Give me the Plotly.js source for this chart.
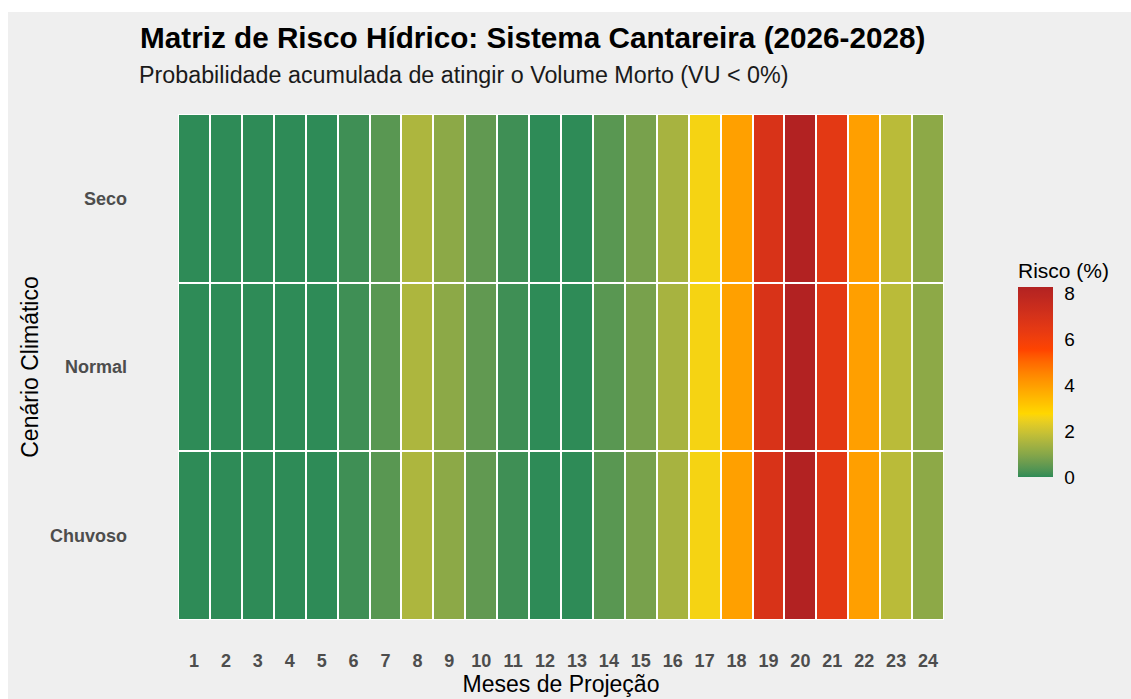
<!DOCTYPE html>
<html><head><meta charset="utf-8">
<script src="https://cdn.plot.ly/plotly-3.0.1.min.js"></script>
<style>html,body{margin:0;padding:0;background:#ffffff;} #chart{position:absolute;left:8px;top:12px;width:1123px;height:687px;}</style>
</head><body><div id="chart"></div>
<script>
const months = [1,2,3,4,5,6,7,8,9,10,11,12,13,14,15,16,17,18,19,20,21,22,23,24];
const scenarios = ['Chuvoso','Normal','Seco'];
const riskSeco    = [0,0,0,0,0,0.14,0.41,1.54,1.07,0.50,0.14,0,0,0.41,0.80,1.46,2.61,3.94,6.89,8.27,6.50,3.96,1.73,1.08];
const riskNormal  = [0,0,0,0,0,0.14,0.41,1.54,1.07,0.50,0.14,0,0,0.41,0.80,1.46,2.61,3.94,6.89,8.27,6.50,3.96,1.73,1.08];
const riskChuvoso = [0,0,0,0,0,0.14,0.41,1.54,1.07,0.50,0.14,0,0,0.41,0.80,1.46,2.61,3.94,6.89,8.27,6.50,3.96,1.73,1.08];
const anchorColors = ['#2E8B57','#FFD700','#FF4500','#B22222'];
const colorbarTicks = [0,2,4,6,8];
const titleText = 'Matriz de Risco Hídrico: Sistema Cantareira (2026-2028)';
const subtitleText = 'Probabilidade acumulada de atingir o Volume Morto (VU < 0%)';

// Lab-space interpolation (like ggplot's gradientn)
function hex2rgb(h){return [1,3,5].map(i=>parseInt(h.substr(i,2),16)/255);}
function toLin(c){return c<=0.04045?c/12.92:Math.pow((c+0.055)/1.055,2.4);}
function fromLin(c){return c<=0.0031308?12.92*c:1.055*Math.pow(c,1/2.4)-0.055;}
const Wn=[0.95047,1,1.08883];
function f(t){return t>0.008856?Math.cbrt(t):7.787*t+16/116;}
function finv(t){return t>0.206893?t*t*t:(t-16/116)/7.787;}
function rgb2lab(rgb){
  const [r,g,b]=rgb.map(toLin);
  const X=(0.4124*r+0.3576*g+0.1805*b)/Wn[0], Y=(0.2126*r+0.7152*g+0.0722*b)/Wn[1], Z=(0.0193*r+0.1192*g+0.9505*b)/Wn[2];
  const fx=f(X),fy=f(Y),fz=f(Z);
  return [116*fy-16,500*(fx-fy),200*(fy-fz)];
}
function lab2rgb(lab){
  const fy=(lab[0]+16)/116, fx=fy+lab[1]/500, fz=fy-lab[2]/200;
  const X=finv(fx)*Wn[0],Y=finv(fy)*Wn[1],Z=finv(fz)*Wn[2];
  let r=3.2406*X-1.5372*Y-0.4986*Z, g=-0.9689*X+1.8758*Y+0.0415*Z, b=0.0557*X-0.2040*Y+1.0570*Z;
  return [r,g,b].map(c=>Math.round(Math.min(1,Math.max(0,fromLin(Math.max(0,c))))*255));
}
const labs = anchorColors.map(h=>rgb2lab(hex2rgb(h)));
const colorscale=[];
const N=60;
for(let i=0;i<=N;i++){
  const p=i/N, seg=Math.min(labs.length-2,Math.floor(p*(labs.length-1)));
  const t=p*(labs.length-1)-seg;
  const lab=labs[seg].map((v,k)=>v+(labs[seg+1][k]-v)*t);
  const c=lab2rgb(lab);
  colorscale.push([p,'rgb('+c.join(',')+')']);
}

const z=[riskChuvoso,riskNormal,riskSeco];
const font='"Liberation Sans", Arial, sans-serif';

const trace={
  type:'heatmap', x:months, y:scenarios, z:z,
  colorscale:colorscale, zmin:0,
  xgap:2, ygap:2,
  hovertemplate:'Mês %{x}<br>%{y}<br>Risco: %{z:.2f}%<extra></extra>',
  colorbar:{
    thickness:35, thicknessmode:'pixels', len:218, lenmode:'pixels',
    x:1.0966, xanchor:'left', xref:'paper', y:(620-477)/506, yanchor:'bottom',
    xpad:0, ypad:0, outlinewidth:0,
    tickvals:colorbarTicks, ticks:'outside', ticklen:8, tickcolor:'rgba(0,0,0,0)',
    tickfont:{family:font,size:19,color:'#000000'},
    title:{text:'Risco (%)', side:'top', font:{family:font,size:21,color:'#000000'}}
  }
};

const layout={
  width:1123, height:687,
  paper_bgcolor:'#EFEFEF', plot_bgcolor:'#FFFFFF',
  margin:{l:170,r:187,t:102,b:79},
  font:{family:font},
  title:{
    text:titleText,
    font:{family:font,size:29.7,weight:'bold',color:'#000000'},
    x:132/1123, xanchor:'left', xref:'container',
    y:1-26/687, yanchor:'middle', yref:'container'
  },
  annotations:[{
    text:subtitleText, xref:'paper', yref:'paper',
    x:(137-178)/766, xanchor:'left', y:1+(114-75)/506, yanchor:'middle',
    showarrow:false, font:{family:font,size:23.3,color:'#1a1a1a'}
  }],
  xaxis:{
    tickmode:'array', tickvals:months, ticktext:months.map(String),
    range:[0.5,24.5], showgrid:false, zeroline:false, ticks:'',
    ticklabelstandoff:28,
    tickfont:{family:font,size:18,weight:'bold',color:'#4D4D4D'},
    title:{text:'Meses de Projeção', font:{family:font,size:23,color:'#000000'}, standoff:5}
  },
  yaxis:{
    type:'category', categoryorder:'array', categoryarray:scenarios,
    showgrid:false, zeroline:false, ticks:'',
    ticklabelstandoff:50,
    tickfont:{family:font,size:18,weight:'bold',color:'#4D4D4D'},
    title:{text:'Cenário Climático', font:{family:font,size:23,color:'#000000'}, standoff:4}
  }
};
Plotly.newPlot('chart',[trace],layout,{displayModeBar:false});
</script></body></html>
